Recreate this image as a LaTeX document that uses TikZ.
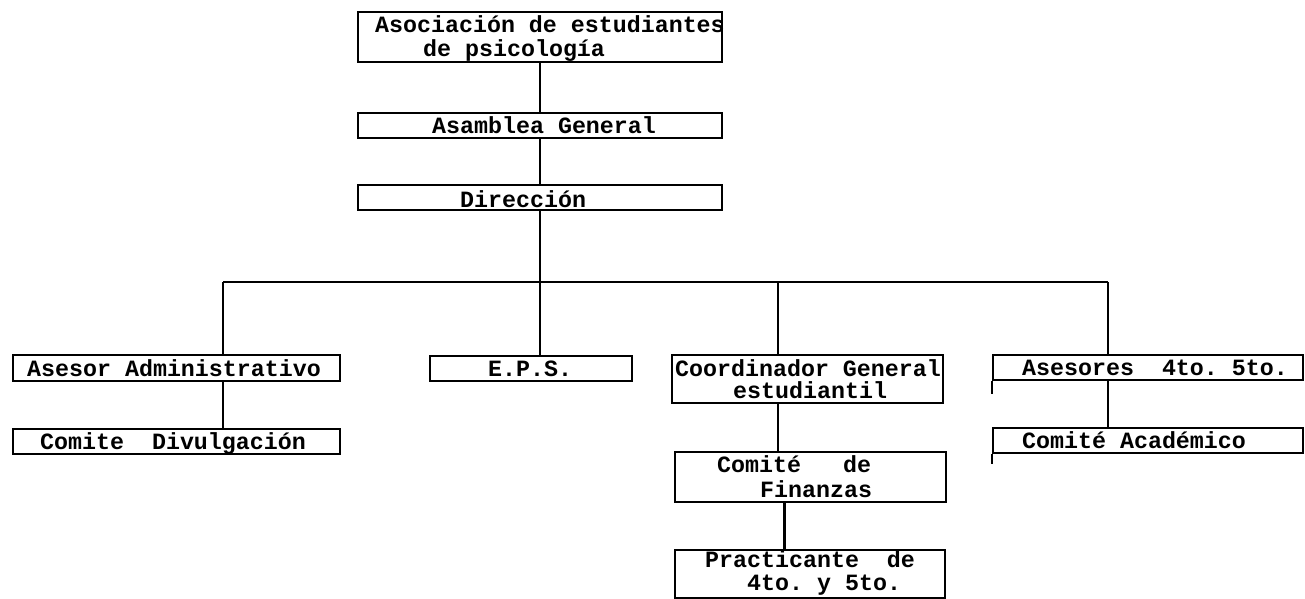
\documentclass[tikz,border=0pt]{standalone}
\usepackage{fontspec}
\setmonofont{Liberation Mono}
\begin{document}
\begin{tikzpicture}[x=1pt,y=-1pt,
        caja/.style={draw,line width=2.2pt,inner sep=0pt},
        texto/.style={anchor=base west,inner sep=0pt,align=left,
            font=\ttfamily\bfseries\fontsize{23.3}{24}\selectfont},
        linea/.style={line width=2.2pt}]
        \useasboundingbox (0,0) rectangle (1305,599);

        % Cajas nivel superior
        \node[caja,minimum width=364,minimum height=50] (asoc) at (540,37) {};
        \node[caja,minimum width=364,minimum height=25] (asam) at (540,125.5) {};
        \node[caja,minimum width=364,minimum height=25] (dir) at (540,197.5) {};

        % Cajas segundo nivel
        \node[caja,minimum width=327,minimum height=26] (aseadm) at (176.5,368) {};
        \node[caja,minimum width=202,minimum height=25] (eps) at (531,368.5) {};
        \node[caja,minimum width=271,minimum height=48] (coord) at (807.5,379) {};
        \node[caja,minimum width=310,minimum height=25] (ases) at (1148,367.5) {};

        % Cajas inferiores
        \node[caja,minimum width=327,minimum height=25] (divulg) at (176.5,441.5) {};
        \node[caja,minimum width=271,minimum height=50] (fin) at (810.5,477) {};
        \node[caja,minimum width=270,minimum height=48] (prac) at (810,574) {};
        \node[caja,minimum width=310,minimum height=25] (acad) at (1148,440.5) {};

        % Textos (en las de dos renglones la base es la del ultimo)
        \node[texto] (asoc-t) at (375,57) {Asociación de estudiantes\\\hspace*{48pt}de psicología};
        \node[texto] (asam-t) at (432,133) {Asamblea General};
        \node[texto] (dir-t) at (460,207) {Dirección};
        \node[texto] (aseadm-t) at (27,376) {Asesor Administrativo};
        \node[texto] (eps-t) at (488,376) {E.P.S.};
        \node[texto] (coord-t) at (675,398) {Coordinador General\\[-2pt]\hspace*{58pt}estudiantil};
        \node[texto] (ases-t) at (1022,375) {Asesores~~4to.~5to.};
        \node[texto] (divulg-t) at (40,449) {Comite~~Divulgación};
        \node[texto] (fin-t) at (717,497) {Comité~~~de\\[1pt]\hspace*{43pt}Finanzas};
        \node[texto] (prac-t) at (705,590) {Practicante~~de\\[-1pt]\hspace*{42pt}4to.~y~5to.};
        \node[texto] (acad-t) at (1022,448) {Comité Académico};

        %Conectores
        \coordinate (bus-l) at (223,282);
        \coordinate (bus-c) at (778,282);
        \coordinate (bus-r) at (1108,282);
        \draw[linea] (asoc) -- (asam);
        \draw[linea] (asam) -- (dir);
        \draw[linea] (dir.south) -- (dir.south |- eps.north);
        \draw[linea] (bus-l) -- (bus-r);
        \foreach \b/\c in {bus-l/aseadm,bus-c/coord,bus-r/ases}
            \draw[linea] (\b) -- (\b |- \c.north);
        \draw[linea] (bus-l |- aseadm.south) -- (bus-l |- divulg.north);
        \draw[linea] (bus-c |- coord.south) -- (bus-c |- fin.north);
        \draw[linea] ([xshift=-26pt]fin.south) -- ([xshift=-26pt]fin.south |- prac.north);
        \draw[linea] (bus-r |- ases.south) -- (bus-r |- acad.north);
        \draw[linea] (ases.south west) -- ++(0,13);
        \draw[linea] (acad.south west) -- ++(0,10);
    \end{tikzpicture}
\end{document}
